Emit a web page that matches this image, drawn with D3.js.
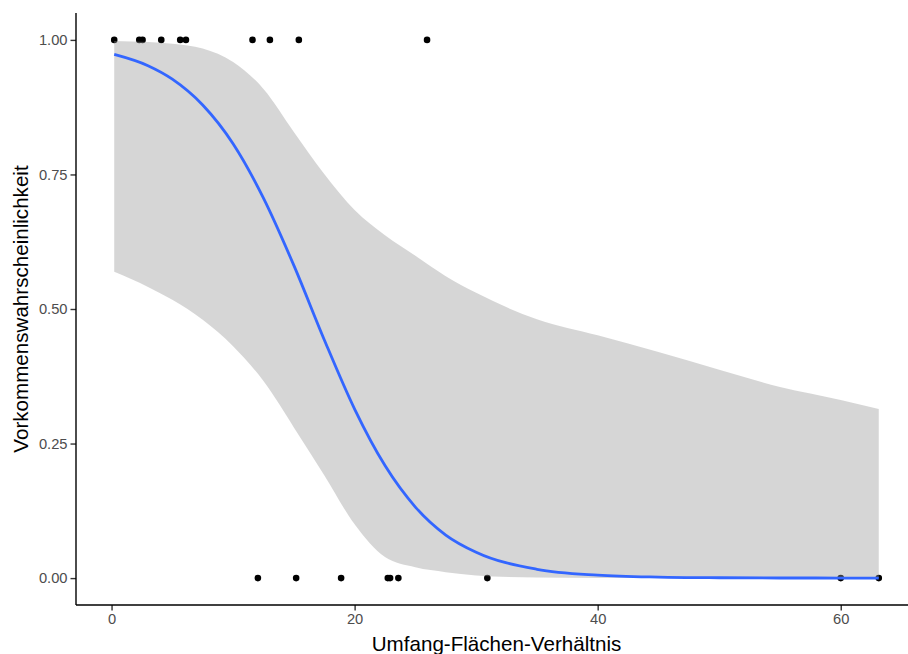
<!DOCTYPE html>
<html>
<head>
<meta charset="utf-8">
<script src="https://cdn.jsdelivr.net/npm/d3@7"></script>
<style>
  body { margin: 0; background: #fff; }
  svg text { font-family: "Liberation Sans", Arial, sans-serif; }
</style>
</head>
<body>
<svg id="chart" width="908" height="654"></svg>
<script>
// observed points: occurrence (1) and absence (0)
var presentX = [0.22, 2.28, 2.55, 4.09, 5.65, 6.12, 11.6, 13.03, 15.41, 25.96];
var absentX = [12.04, 15.19, 18.89, 22.73, 22.92, 23.6, 30.92, 60.0, 63.13];

// fitted logistic curve and confidence band
var fitX  = [0.22, 3, 5, 7.5, 10, 12.5, 15, 17.5, 20, 22.5, 25, 27.5, 30, 35, 40, 45, 50, 55, 60, 63.13];
var fitY  = [0.973, 0.952, 0.927, 0.879, 0.807, 0.706, 0.581, 0.443, 0.314, 0.209, 0.132, 0.080, 0.048, 0.0164, 0.0055, 0.0018, 0.0006, 0.0002, 0.0001, 0.0];
var ciHigh = [0.998, 0.996, 0.993, 0.984, 0.959, 0.909, 0.829, 0.751, 0.684, 0.637, 0.599, 0.561, 0.530, 0.481, 0.451, 0.420, 0.387, 0.355, 0.331, 0.314];
var ciLow  = [0.569, 0.541, 0.517, 0.480, 0.431, 0.366, 0.280, 0.191, 0.100, 0.039, 0.020, 0.011, 0.005, 0.001, 0.0003, 0.0, 0.0, 0.0, 0.0, 0.0];

var xTicks = [0, 20, 40, 60];
var yTicks = [0, 0.25, 0.5, 0.75, 1];

var svg = d3.select("#chart");
var panel = {left: 76, right: 917, top: 13, bottom: 605};

var allX = presentX.concat(absentX);
var xmin = d3.min(allX), xmax = d3.max(allX);
var pad = (xmax - xmin) * 0.05;

var x = d3.scaleLinear().domain([xmin - pad, xmax + pad]).range([panel.left, panel.right]);
var y = d3.scaleLinear().domain([-0.05, 1.05]).range([panel.bottom, panel.top]);

var pts = presentX.map(function(v) { return {x: v, y: 1}; })
    .concat(absentX.map(function(v) { return {x: v, y: 0}; }));

svg.append("g")
    .selectAll("circle")
    .data(pts)
    .enter()
    .append("circle")
    .attr("cx", function(d) { return x(d.x); })
    .attr("cy", function(d) { return y(d.y); })
    .attr("r", 3.3)
    .attr("fill", "#000");

var band = fitX.map(function(v, i) { return {x: v, lo: ciLow[i], hi: ciHigh[i], f: fitY[i]}; });

svg.append("path")
    .datum(band)
    .attr("d", d3.area()
        .x(function(d) { return x(d.x); })
        .y0(function(d) { return y(d.lo); })
        .y1(function(d) { return y(d.hi); })
        .curve(d3.curveMonotoneX))
    .attr("fill", "#999999")
    .attr("fill-opacity", 0.4);

svg.append("path")
    .datum(band)
    .attr("d", d3.line()
        .x(function(d) { return x(d.x); })
        .y(function(d) { return y(d.f); })
        .curve(d3.curveMonotoneX))
    .attr("fill", "none")
    .attr("stroke", "#3366FF")
    .attr("stroke-width", 2.8);

// axes
var xAxis = svg.append("g")
    .attr("transform", "translate(0," + panel.bottom + ")")
    .call(d3.axisBottom(x).tickValues(xTicks).tickSize(5.5).tickPadding(3).tickFormat(d3.format("d")));
var yAxis = svg.append("g")
    .attr("transform", "translate(" + panel.left + ",0)")
    .call(d3.axisLeft(y).tickValues(yTicks).tickSize(5.5).tickPadding(3).tickFormat(d3.format(".2f")));

[xAxis, yAxis].forEach(function(a) {
    a.select(".domain").remove();
    a.selectAll(".tick line").attr("stroke", "#333333").attr("stroke-width", 1.4);
    a.selectAll(".tick text").attr("fill", "#4D4D4D").style("font-size", "14.7px");
});

svg.append("line")
    .attr("x1", panel.left).attr("x2", panel.right)
    .attr("y1", panel.bottom).attr("y2", panel.bottom)
    .attr("stroke", "#000").attr("stroke-width", 1.4);
svg.append("line")
    .attr("x1", panel.left).attr("x2", panel.left)
    .attr("y1", panel.top).attr("y2", panel.bottom)
    .attr("stroke", "#000").attr("stroke-width", 1.4);

svg.append("text")
    .attr("x", (panel.left + panel.right) / 2)
    .attr("y", 651)
    .attr("text-anchor", "middle")
    .style("font-size", "20.6px")
    .text("Umfang-Flächen-Verhältnis");

svg.append("text")
    .attr("transform", "translate(28," + ((panel.top + panel.bottom) / 2) + ") rotate(-90)")
    .attr("text-anchor", "middle")
    .style("font-size", "20.6px")
    .text("Vorkommenswahrscheinlichkeit");
</script>
</body>
</html>
